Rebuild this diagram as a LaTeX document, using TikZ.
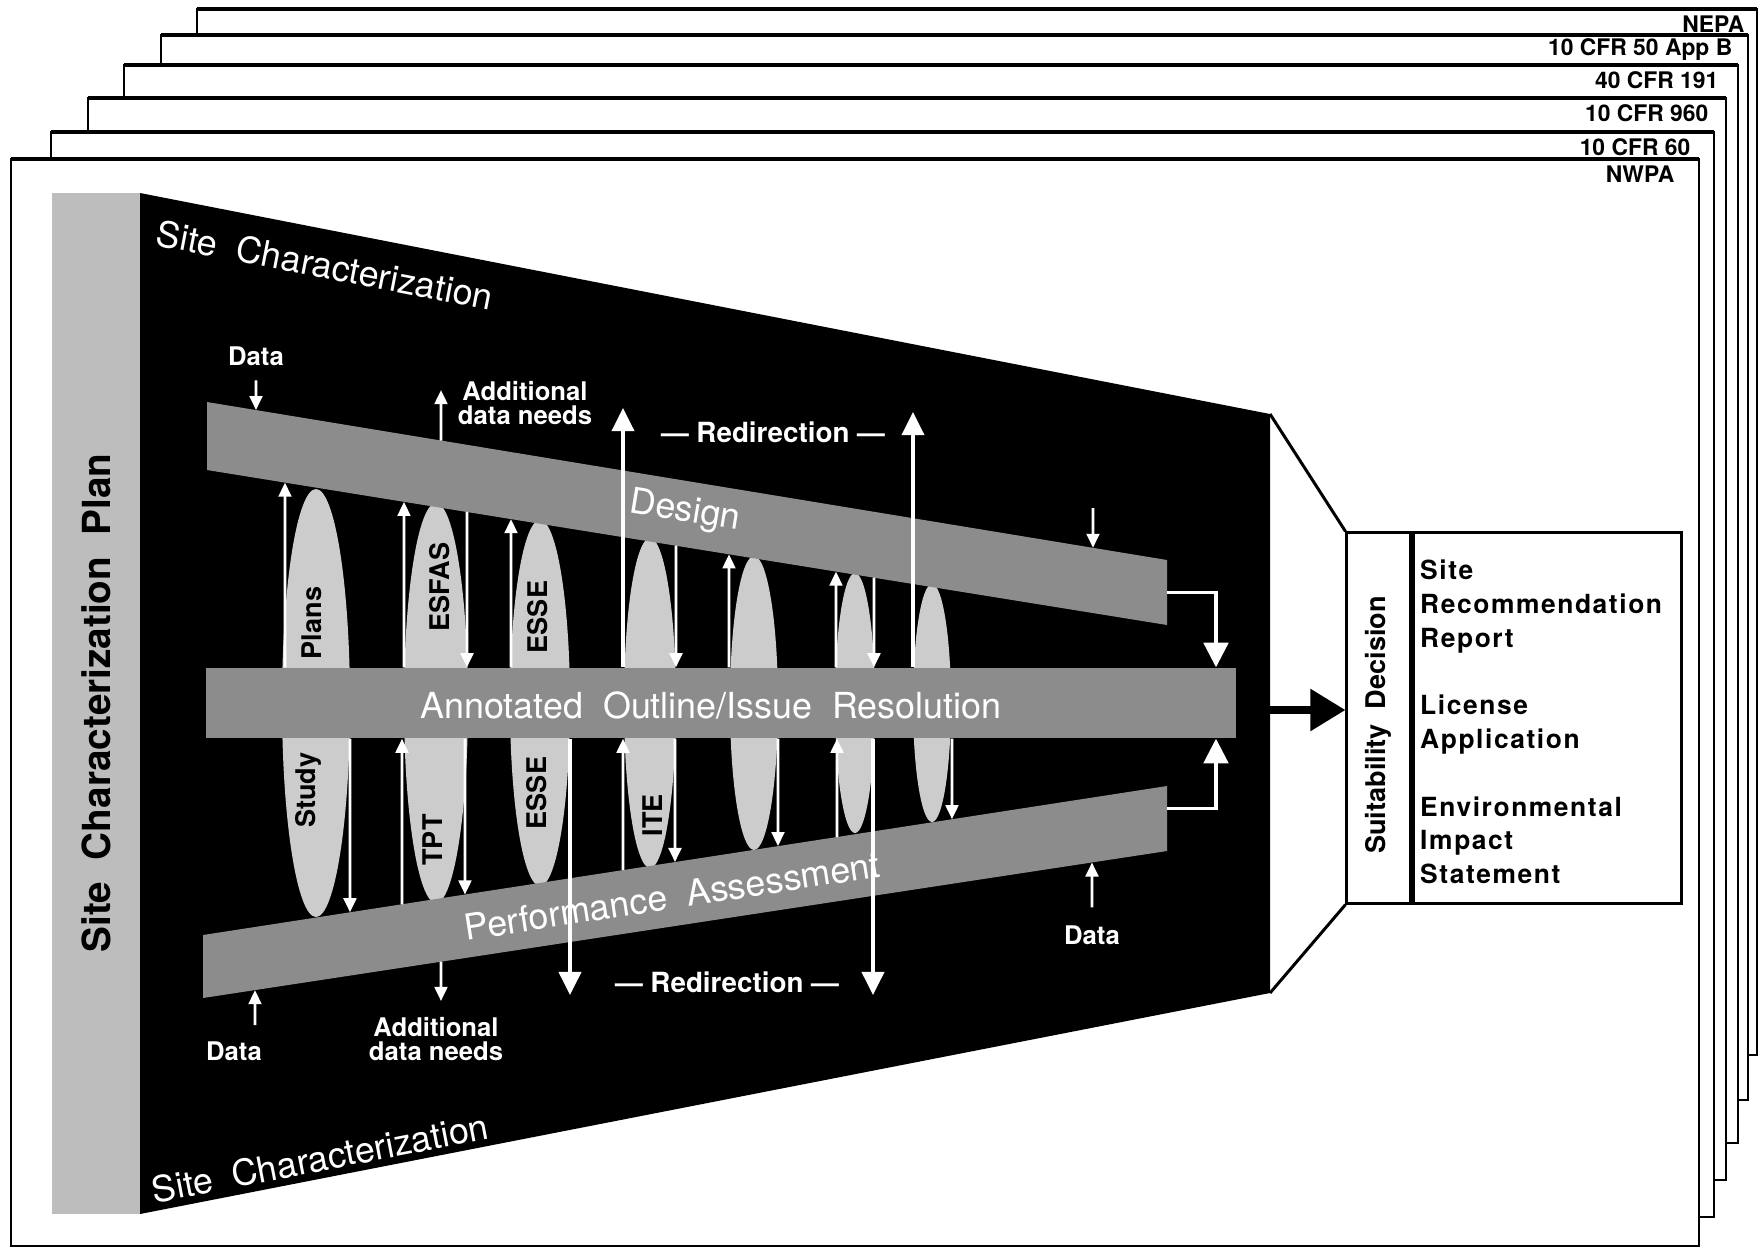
\documentclass[tikz,border=0pt]{standalone}
\usepackage{fontspec}
\setmainfont{TeX Gyre Heros}
\newfontfamily\spacedfont{TeX Gyre Heros}[LetterSpace=6]
\usetikzlibrary{arrows.meta,calc,positioning}

\definecolor{bandgray}{gray}{0.55}
\definecolor{ovalgray}{gray}{0.80}
\definecolor{bargray}{gray}{0.74}

\tikzset{
  page/.style={draw, fill=white, line width=0.5pt},
  pagetop/.style={line width=1.1pt},
  pglabel/.style={anchor=east, inner sep=0pt, font=\fontsize{6.5}{7}\selectfont\bfseries},
  band/.style={fill=bandgray},
  bandlbl/.style={text=white, inner sep=0pt, font=\fontsize{10.2}{12}\selectfont},
  oval/.style={fill=ovalgray},
  ovallbl/.style={rotate=90, inner sep=0pt, font=\fontsize{7.7}{8}\selectfont\bfseries},
  wlbl/.style={text=white, inner sep=1pt, align=center, font=\fontsize{7.3}{6.8}\selectfont\bfseries},
  warr/.style={draw=white, line width=0.8pt, -{Triangle[length=4pt,width=3.6pt]}},
  bigwarr/.style={draw=white, line width=1.1pt, -{Triangle[length=6.6pt,width=6.3pt]}},
  bendarr/.style={draw=white, line width=0.9pt, -{Triangle[length=7pt,width=7pt]}},
  outbox/.style={draw, line width=0.85pt, inner sep=0pt, minimum height=3.7cm},
}

\begin{document}
\begin{tikzpicture}[x=0.01cm, y=-0.01cm]
  \useasboundingbox (0,0) rectangle (1762,1250);

  % stack of regulation pages
  \foreach \lbl/\l/\t/\r/\b/\i [count=\k] in {NEPA/197/9/1757/1055/12,
      10 CFR 50 App B/161/35/1748/1100/15, 40 CFR 191/124/65/1738/1143/19,
      10 CFR 960/88/98/1726/1180/17, 10 CFR 60/51/132/1714/1217/23,
      NWPA/11/159/1699/1246/24} {
    \draw[page] (\l,\t) rectangle (\r,\b);
    \draw[pagetop] (\l,\t) -- (\r,\t);
    \node[pglabel] (pg-\k) at (\r-\i,\t+15) {\lbl};
  }

  % plan bar and black funnel
  \fill[bargray] (52,193) rectangle (140,1214);
  \node[rotate=90, font=\fontsize{11}{13}\selectfont\bfseries] (scp) at (96,703)
    {Site\ \ Characterization\ \ Plan};
  \coordinate (t-tl) at (140,193);  \coordinate (t-tr) at (1270,414);
  \coordinate (t-br) at (1270,993); \coordinate (t-bl) at (140,1214);
  \fill (t-tl) -- (t-tr) -- (t-br) -- (t-bl) -- cycle;
  \node[bandlbl, rotate=-11] (sc-top) at (325,265) {Site\ \ Characterization};
  \node[bandlbl, rotate=11] (sc-bot) at (320,1158) {Site\ \ Characterization};

  % ovals
  \foreach \x/\ry/\rx in {316/214/34, 436/200/32, 540/183/30, 650/165/26,
      754/147/24, 855/130/20, 932/119/19}
    \fill[oval] (\x,703) ellipse ({\rx} and {\ry});
  \node[ovallbl] (o-plans) at (312,623) {Plans};
  \node[ovallbl] (o-esfas) at (440,587) {ESFAS};
  \node[ovallbl] (o-esse-u) at (538,617) {ESSE};
  \node[ovallbl] (o-study) at (308,790) {Study};
  \node[ovallbl] (o-tpt) at (433,840) {TPT};
  \node[ovallbl] (o-esse-l) at (537,793) {ESSE};
  \node[ovallbl] (o-ite) at (653,815) {ITE};

  % bands
  \coordinate (d-tl) at (207,402);  \coordinate (d-tr) at (1167,560);
  \coordinate (d-br) at (1167,625); \coordinate (d-bl) at (207,470);
  \fill[band] (d-tl) -- (d-tr) -- (d-br) -- (d-bl) -- cycle;
  \coordinate (p-tl) at (203,935);  \coordinate (p-tr) at (1167,786);
  \coordinate (p-br) at (1167,851); \coordinate (p-bl) at (203,998);
  \fill[band] (p-tl) -- (p-tr) -- (p-br) -- (p-bl) -- cycle;
  \node[band, minimum width=10.3cm, minimum height=0.7cm, inner sep=0pt] (aoir) at (721,703) {};
  \node[bandlbl] (aoir-lbl) at (711,705) {Annotated\ \ Outline/Issue\ \ Resolution};
  \node[bandlbl, rotate=-9.3] (dsgn-lbl) at (685,512) {Design};
  \node[bandlbl, rotate=8.8] (pa-lbl) at (672,896) {Performance\ \ Assessment};

  % arrows between bands
  \foreach \x[evaluate={\t=(\x-207)/960}] in {285,404,511,729,836}
    \draw[warr] (\x,0 |- aoir.north) -- ($(d-bl)!\t!(d-br)$);
  \foreach \x[evaluate={\t=(\x-207)/960}] in {467,676,874}
    \draw[warr] ($(d-bl)!\t!(d-br)$) -- (\x,0 |- aoir.north);
  \foreach \x[evaluate={\t=(\x-203)/964}] in {350,465,675,778,952}
    \draw[warr] (\x,0 |- aoir.south) -- ($(p-tl)!\t!(p-tr)$);
  \foreach \x[evaluate={\t=(\x-203)/964}] in {402,623,837}
    \draw[warr] ($(p-tl)!\t!(p-tr)$) -- (\x,0 |- aoir.south);

  % redirection
  \node[wlbl, font=\fontsize{7.9}{9}\selectfont\bfseries] (red-u) at (773,432) {--- Redirection ---};
  \node[wlbl, font=\fontsize{7.9}{9}\selectfont\bfseries] (red-l) at (727,982) {--- Redirection ---};
  \coordinate (redu-l) at (623,408); \coordinate (redu-r) at (913,412);
  \coordinate (redl-l) at (570,995); \coordinate (redl-r) at (873,995);
  \foreach \c in {redu-l,redu-r}
    \draw[bigwarr] (\c |- aoir.north) -- (\c);
  \foreach \c in {redl-l,redl-r}
    \draw[bigwarr] (\c |- aoir.south) -- (\c);

  % data in, data needs out
  \node[wlbl] (dat-ul) at (256,356) {Data};
  \draw[warr, shorten <=3pt] (dat-ul.south) -- ($(d-tl)!{(256-207)/960}!(d-tr)$);
  \node[wlbl] (add-u) at (525,403) {Additional\\data needs};
  \coordinate (addu-tip) at (441,390);
  \draw[warr] ($(d-tl)!{(441-207)/960}!(d-tr)$) -- (addu-tip);
  \coordinate (datr-u) at (1093,508);
  \draw[warr] (datr-u) -- ($(d-tl)!{(1093-207)/960}!(d-tr)$);
  \node[wlbl] (dat-ll) at (234,1051) {Data};
  \coordinate (datl-l) at (255,1025);
  \draw[warr] (datl-l) -- ($(p-bl)!{(255-203)/964}!(p-br)$);
  \node[wlbl] (add-l) at (436,1039) {Additional\\data needs};
  \coordinate (addl-tip) at (441,1001);
  \draw[warr] ($(p-bl)!{(441-203)/964}!(p-br)$) -- (addl-tip);
  \node[wlbl] (dat-lr) at (1092,935) {Data};
  \draw[warr, shorten <=4pt] (dat-lr.north) -- ($(p-bl)!{(1092-203)/964}!(p-br)$);

  % band ends into outline
  \draw[bendarr] ($(d-tr)!.5!(d-br)$) -| ($(aoir.north east)+(-21,0)$);
  \draw[bendarr] ($(p-tr)!.35!(p-br)$) -| ($(aoir.south east)+(-21,0)$);

  % decision box
  \node[outbox, minimum width=0.63cm] (sdec) at (1378.5,718) {};
  \node[outbox, minimum width=2.68cm, right=0pt of sdec] (docs) {};
  \node[rotate=90, inner sep=0pt, font=\fontsize{7.7}{9}\selectfont\bfseries] (sdec-lbl)
    at ([yshift=-2pt]sdec.center) {Suitability\ \ Decision};
  \node[anchor=north west, align=left, inner sep=0pt,
    font=\spacedfont\bfseries\fontsize{7.5}{9.6}\selectfont] (docs-lbl)
    at ($(docs.north west)+(8,28)$)
    {Site\\Recommendation\\Report\\[9.6pt]License\\Application\\[9.6pt]Environmental\\Impact\\Statement};
  \draw[line width=0.85pt] (t-tr) -- (sdec.north west);
  \draw[line width=0.85pt] (t-br) -- (sdec.south west);
  \coordinate (t-out) at (1270,710);
  \draw[line width=2.2pt, -{Triangle[length=10pt,width=11.5pt]}] (t-out) -- (sdec.west |- t-out);
\end{tikzpicture}
\end{document}
